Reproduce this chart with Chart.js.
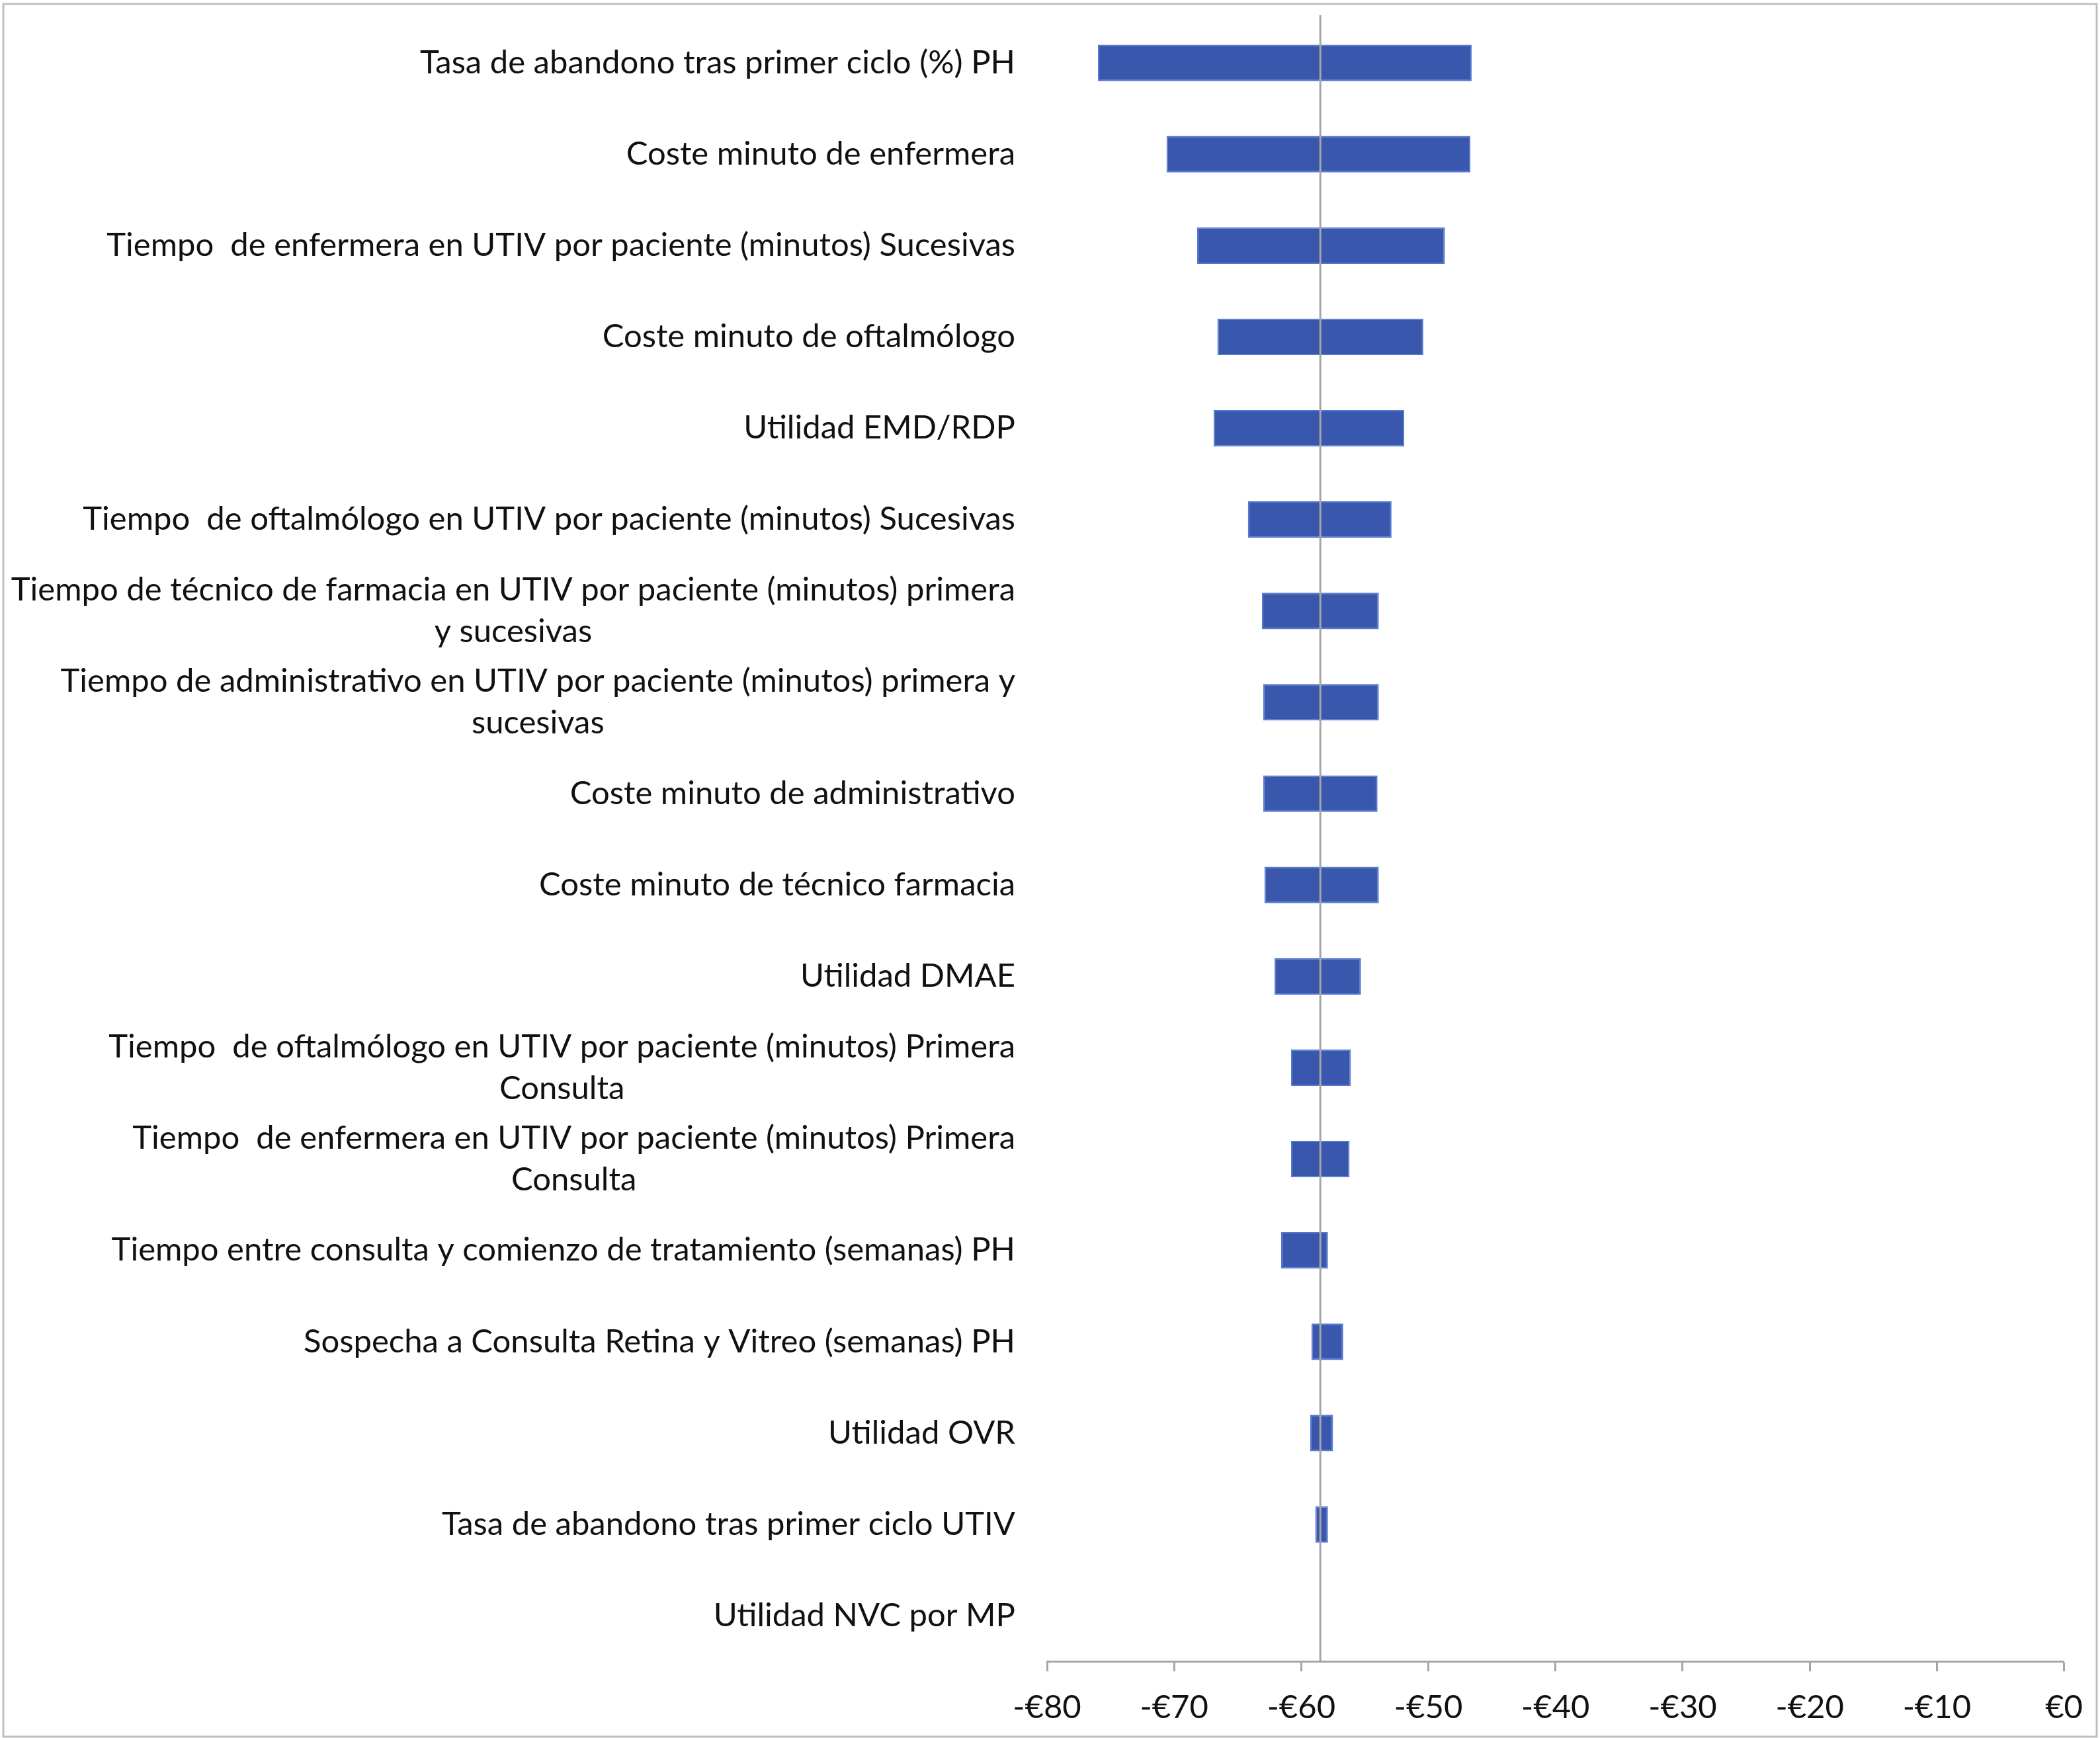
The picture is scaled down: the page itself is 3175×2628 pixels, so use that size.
<!DOCTYPE html>
<html>
<head>
<meta charset="utf-8">
<script src="https://cdn.jsdelivr.net/npm/chart.js@4.4.1/dist/chart.umd.min.js"></script>
<style>
  html, body { margin: 0; padding: 0; background: #fff; }
  #wrap { width: 3175px; height: 2628px; position: relative; }
</style>
</head>
<body>
<div id="wrap"><canvas id="tornado"></canvas></div>
<script>
// categories, top to bottom (multi-line ones as arrays)
var categories = [
  "Tasa de abandono tras primer ciclo (%) PH",
  "Coste minuto de enfermera",
  "Tiempo  de enfermera en UTIV por paciente (minutos) Sucesivas",
  "Coste minuto de oftalmólogo",
  "Utilidad EMD/RDP",
  "Tiempo  de oftalmólogo en UTIV por paciente (minutos) Sucesivas",
  ["Tiempo de técnico de farmacia en UTIV por paciente (minutos) primera", "y sucesivas"],
  ["Tiempo de administrativo en UTIV por paciente (minutos) primera y", "sucesivas"],
  "Coste minuto de administrativo",
  "Coste minuto de técnico farmacia",
  "Utilidad DMAE",
  ["Tiempo  de oftalmólogo en UTIV por paciente (minutos) Primera", "Consulta"],
  ["Tiempo  de enfermera en UTIV por paciente (minutos) Primera", "Consulta"],
  "Tiempo entre consulta y comienzo de tratamiento (semanas) PH",
  "Sospecha a Consulta Retina y Vitreo (semanas) PH",
  "Utilidad OVR",
  "Tasa de abandono tras primer ciclo UTIV",
  "Utilidad NVC por MP"
];

// left and right ends of each bar (€)
var lowValues  = [-76.0, -70.6, -68.2, -66.6, -66.9, -64.2, -63.1, -63.0, -63.0, -62.9,
                  -62.1, -60.8, -60.8, -61.6, -59.2, -59.3, -58.9, -58.5];
var highValues = [-46.6, -46.7, -48.7, -50.4, -51.9, -52.9, -53.9, -53.9, -54.0, -53.9,
                  -55.3, -56.1, -56.2, -57.9, -56.7, -57.5, -57.9, -58.5];

// base case result
var baseValue = -58.5;

var xTicks = [-80, -70, -60, -50, -40, -30, -20, -10, 0];

var fontFamily = "Lato, 'Noto Sans', sans-serif";
var fontSize = 49;

var bars = lowValues.map(function(v, i) { return [v, highValues[i]]; });

// frame round the whole picture
var framePlugin = {
  id: 'frame',
  beforeDraw: function(chart) {
    var ctx = chart.ctx;
    ctx.save();
    ctx.fillStyle = '#fff';
    ctx.fillRect(0, 0, chart.width, chart.height);
    ctx.strokeStyle = '#bfbfbf';
    ctx.lineWidth = 3;
    ctx.strokeRect(5, 6, chart.width - 10, chart.height - 8);
    ctx.restore();
  }
};

// vertical line at the base case value
var baseLinePlugin = {
  id: 'baseLine',
  afterDatasetsDraw: function(chart) {
    var x = chart.scales.x.getPixelForValue(baseValue);
    var ctx = chart.ctx;
    ctx.save();
    ctx.strokeStyle = '#a6a6a6';
    ctx.lineWidth = 3;
    ctx.beginPath();
    ctx.moveTo(x, chart.chartArea.top - 3);
    ctx.lineTo(x, chart.chartArea.bottom);
    ctx.stroke();
    ctx.restore();
  }
};

// category labels: block right aligned, lines centred inside the block
var labelPlugin = {
  id: 'catLabels',
  afterDraw: function(chart) {
    var ctx = chart.ctx;
    var yScale = chart.scales.y;
    var right = chart.chartArea.left - 48;
    var lineH = 63;
    ctx.save();
    ctx.font = fontSize + 'px ' + fontFamily;
    ctx.fillStyle = '#111';
    ctx.textBaseline = 'middle';
    ctx.textAlign = 'center';
    categories.forEach(function(lab, i) {
      var lines = Array.isArray(lab) ? lab : [lab];
      var w = 0;
      lines.forEach(function(l) { w = Math.max(w, ctx.measureText(l).width); });
      var cx = right - w / 2;
      var yc = yScale.getPixelForValue(i);
      var y0 = yc - (lines.length - 1) * lineH / 2;
      lines.forEach(function(l, k) {
        ctx.fillText(l, cx, y0 + k * lineH);
      });
    });
    ctx.restore();
  }
};

var ctx = document.getElementById('tornado').getContext('2d');
var chart = new Chart(ctx, {
  type: 'bar',
  data: {
    labels: categories,
    datasets: [{
      data: bars,
      backgroundColor: '#3a57ae',
      borderColor: '#5479d2',
      borderWidth: 2,
      borderSkipped: false,
      barPercentage: 0.4,
      categoryPercentage: 1.0
    }]
  },
  options: {
    indexAxis: 'y',
    responsive: true,
    maintainAspectRatio: false,
    devicePixelRatio: 1,
    animation: false,
    layout: { padding: { left: 1575, right: 52, top: 26, bottom: -10 } },
    plugins: {
      legend: { display: false },
      tooltip: { enabled: false }
    },
    scales: {
      x: {
        min: -80,
        max: 0,
        afterBuildTicks: function(axis) {
          axis.ticks = xTicks.map(function(v) { return { value: v }; });
        },
        grid: {
          drawOnChartArea: false,
          drawTicks: true,
          tickLength: 15,
          tickColor: '#a6a6a6',
          tickWidth: 3
        },
        border: { display: true, color: '#a6a6a6', width: 3 },
        ticks: {
          maxRotation: 0,
          padding: 26,
          color: '#111',
          font: { family: fontFamily, size: fontSize },
          callback: function(v) { return (v < 0 ? '-' : '') + '€' + Math.abs(v); }
        }
      },
      y: {
        grid: { display: false },
        border: { display: false },
        ticks: { display: false }
      }
    }
  },
  plugins: [framePlugin, baseLinePlugin, labelPlugin]
});
</script>
</body>
</html>
